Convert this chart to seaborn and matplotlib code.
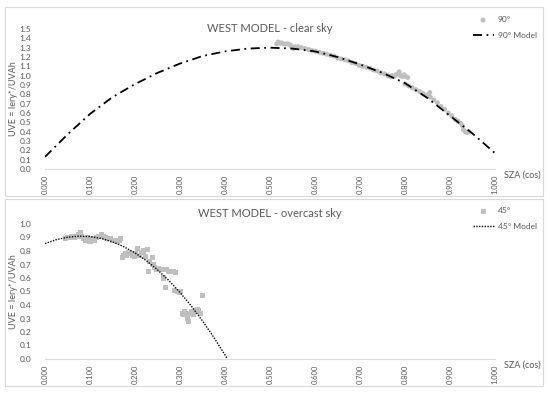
import matplotlib
matplotlib.use("Agg")
import matplotlib.pyplot as plt
from matplotlib.patches import Rectangle
import numpy as np
import pandas as pd
import seaborn as sns

# WEST MODEL - clear sky (90 deg)
clear_x = [0.515, 0.518, 0.522, 0.526, 0.530, 0.535, 0.540, 0.545, 0.548, 0.552,
           0.556, 0.562, 0.570, 0.578, 0.586, 0.594, 0.602, 0.610, 0.618, 0.626,
           0.634, 0.642, 0.650, 0.658, 0.666, 0.674, 0.682, 0.690, 0.698, 0.706,
           0.714, 0.722, 0.730, 0.738, 0.746, 0.754, 0.762, 0.768, 0.772, 0.776,
           0.780, 0.784, 0.787, 0.790, 0.794, 0.798, 0.802, 0.806, 0.800, 0.808,
           0.816, 0.824, 0.832, 0.840, 0.848, 0.855, 0.856, 0.864, 0.872, 0.880,
           0.888, 0.896, 0.904, 0.912, 0.918, 0.924, 0.928, 0.930, 0.934, 0.938, 0.942]
clear_y = [1.34, 1.36, 1.35, 1.35, 1.34, 1.34, 1.34, 1.33, 1.31, 1.29,
           1.31, 1.31, 1.30, 1.29, 1.28, 1.27, 1.26, 1.25, 1.24, 1.23,
           1.22, 1.21, 1.19, 1.18, 1.17, 1.16, 1.14, 1.13, 1.11, 1.10,
           1.09, 1.08, 1.06, 1.05, 1.03, 1.02, 1.00, 0.99, 1.00, 0.99,
           1.01, 1.02, 1.04, 1.00, 0.99, 1.01, 0.99, 0.98, 0.91, 0.89,
           0.87, 0.85, 0.83, 0.81, 0.79, 0.82, 0.77, 0.74, 0.71, 0.67,
           0.64, 0.60, 0.57, 0.53, 0.51, 0.49, 0.46, 0.42, 0.40, 0.39, 0.40]
clear_model_x = [0.00, 0.05, 0.10, 0.15, 0.20, 0.25, 0.30, 0.35, 0.40, 0.45, 0.50,
                 0.55, 0.60, 0.65, 0.70, 0.75, 0.80, 0.85, 0.90, 0.95, 1.00]
clear_model_y = [0.13, 0.37, 0.59, 0.77, 0.91, 1.03, 1.13, 1.21, 1.26, 1.29, 1.30,
                 1.29, 1.26, 1.20, 1.12, 1.03, 0.92, 0.76, 0.57, 0.38, 0.17]

# WEST MODEL - overcast sky (45 deg)
overcast_x = [0.045, 0.050, 0.055, 0.060, 0.065, 0.070, 0.075, 0.078, 0.082, 0.086,
              0.090, 0.094, 0.100, 0.105, 0.110, 0.115, 0.120, 0.125, 0.130, 0.135,
              0.140, 0.145, 0.150, 0.155, 0.160, 0.165, 0.168, 0.172, 0.175, 0.178,
              0.182, 0.186, 0.190, 0.194, 0.198, 0.202, 0.205, 0.210, 0.215, 0.219,
              0.224, 0.227, 0.230, 0.233, 0.238, 0.240, 0.244, 0.248, 0.252, 0.256,
              0.260, 0.264, 0.267, 0.270, 0.275, 0.280, 0.285, 0.290, 0.288, 0.294,
              0.298, 0.302, 0.305, 0.308, 0.311, 0.314, 0.317, 0.319, 0.322, 0.326,
              0.330, 0.334, 0.338, 0.342, 0.346, 0.349]
overcast_y = [0.89, 0.90, 0.90, 0.91, 0.90, 0.91, 0.92, 0.94, 0.91, 0.89,
              0.88, 0.90, 0.87, 0.89, 0.88, 0.90, 0.91, 0.92, 0.91, 0.90,
              0.89, 0.89, 0.88, 0.88, 0.87, 0.88, 0.89, 0.75, 0.77, 0.78,
              0.77, 0.79, 0.78, 0.77, 0.76, 0.78, 0.82, 0.77, 0.79, 0.80,
              0.76, 0.81, 0.65, 0.72, 0.75, 0.70, 0.68, 0.66, 0.67, 0.66,
              0.66, 0.60, 0.53, 0.66, 0.65, 0.65, 0.65, 0.64, 0.51, 0.50,
              0.49, 0.50, 0.34, 0.33, 0.35, 0.34, 0.30, 0.28, 0.34, 0.35,
              0.33, 0.36, 0.37, 0.36, 0.34, 0.47]
overcast_model_x = [0.000, 0.025, 0.050, 0.075, 0.100, 0.125, 0.150, 0.175, 0.200,
                    0.225, 0.250, 0.275, 0.300, 0.325, 0.350, 0.375, 0.400, 0.405]
overcast_model_y = [0.855, 0.884, 0.902, 0.910, 0.907, 0.893, 0.868, 0.832, 0.786,
                    0.729, 0.661, 0.582, 0.493, 0.393, 0.282, 0.161, 0.030, 0.000]

x_ticks = [0.0, 0.1, 0.2, 0.3, 0.4, 0.5, 0.6, 0.7, 0.8, 0.9, 1.0]

W, H = 550, 393
GRAY_TXT = "#595959"
GRAY_PTS = "#bfbfbf"


def fx(px):
    return px / W


def fy(py):
    return 1 - py / H


def style_panel(ax, title, ymax, legend_pos, title_pad):
    ax.set_xlim(0, 1.0)
    ax.set_ylim(0, ymax)
    ax.set_xticks(x_ticks)
    ax.set_xticklabels([f"{t:.3f}" for t in x_ticks], rotation=90, fontsize=5.5, color=GRAY_TXT)
    yt = np.round(np.arange(0, ymax + 0.001, 0.1), 1)
    ax.set_yticks(yt)
    ax.set_yticklabels([f"{t:.1f}" for t in yt], fontsize=6, color=GRAY_TXT)
    ax.tick_params(axis="both", length=0, pad=4)
    ax.tick_params(axis="y", pad=10)
    for s in ["top", "right", "left"]:
        ax.spines[s].set_visible(False)
    ax.spines["bottom"].set_color("#d9d9d9")
    ax.spines["bottom"].set_linewidth(0.8)
    ax.set_xlabel("")
    ax.set_ylabel("UVE = Iery*/UVAh", fontsize=6.5, color=GRAY_TXT, labelpad=1)
    ax.set_title(title, fontsize=8, color=GRAY_TXT, pad=title_pad)
    ax.annotate("SZA (cos)", xy=(1.02, 0), xycoords=ax.get_xaxis_transform(),
                xytext=(0, -6), textcoords="offset pixels", fontsize=6.5,
                color=GRAY_TXT, va="center", ha="left")
    ax.legend(loc="upper right", bbox_to_anchor=legend_pos, bbox_transform=ax.figure.transFigure,
              frameon=False, fontsize=6, labelcolor=GRAY_TXT, handlelength=2.5,
              handletextpad=0.5, labelspacing=1.0, borderaxespad=0)


sns.set_style("white")
plt.rcParams["font.family"] = ["Lato", "DejaVu Sans"]

fig = plt.figure(figsize=(5.5, 3.93), dpi=100)

# panel frames
fig.patches.append(Rectangle((fx(5), fy(196)), fx(538), 189 / H, transform=fig.transFigure,
                             fill=False, edgecolor="#d9d9d9", linewidth=0.8))
fig.patches.append(Rectangle((fx(5), fy(386)), fx(538), 187 / H, transform=fig.transFigure,
                             fill=False, edgecolor="#d9d9d9", linewidth=0.8))

ax1 = fig.add_axes([fx(45), fy(169), fx(450), 140 / H])
ax2 = fig.add_axes([fx(45), fy(359), fx(450), 135 / H])

sns.scatterplot(x=clear_x, y=clear_y, ax=ax1, color=GRAY_PTS, s=13, marker="o",
                edgecolor="none", label="90°")
sns.lineplot(x=clear_model_x, y=clear_model_y, ax=ax1, color="black", linewidth=1.3,
             linestyle=(0, (5, 2.5, 1, 2.5)), label="90° Model")
style_panel(ax1, "WEST MODEL - clear sky", 1.5, (fx(540), fy(13)), -2)

sns.scatterplot(x=overcast_x, y=overcast_y, ax=ax2, color=GRAY_PTS, s=13, marker="s",
                edgecolor="none", label="45°")
sns.lineplot(x=overcast_model_x, y=overcast_model_y, ax=ax2, color="black", linewidth=1.0,
             linestyle=(0, (1, 1)), label="45° Model")
style_panel(ax2, "WEST MODEL - overcast sky", 1.0, (fx(540), fy(204)), 5)

fig.savefig("out.png", dpi=100)
